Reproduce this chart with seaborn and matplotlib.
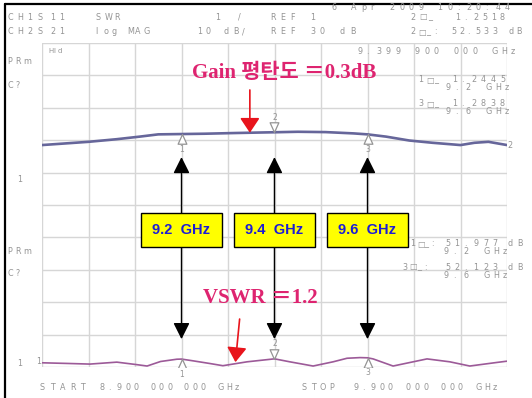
import numpy as np
import pandas as pd
import matplotlib
matplotlib.use("Agg")
import matplotlib.pyplot as plt
import seaborn as sns
from matplotlib.lines import Line2D
from matplotlib.markers import MarkerStyle
from matplotlib.patches import Rectangle

# ---- sweep setup ----
freq_start = 8.9          # GHz
freq_stop = 9.9           # GHz
n_div = 10
vswr_ref = 1.0            # SWR reference at bottom line
vswr_per_div = 1.0

# ---- S21 gain trace (screen divisions from bottom) ----
gain_freq = [8.90, 8.95, 9.00, 9.06, 9.11, 9.15, 9.20, 9.25, 9.31, 9.38, 9.40,
             9.45, 9.51, 9.57, 9.60, 9.64, 9.69, 9.74, 9.80, 9.83, 9.86, 9.90]
gain_div = [6.85, 6.90, 6.95, 7.03, 7.11, 7.18, 7.19, 7.20, 7.22, 7.24, 7.245,
            7.26, 7.25, 7.21, 7.18, 7.11, 6.99, 6.92, 6.85, 6.92, 6.95, 6.85]

# ---- S11 VSWR trace ----
vswr_freq = [8.900, 8.954, 9.003, 9.061, 9.100, 9.126, 9.155, 9.190, 9.200, 9.225,
             9.260, 9.289, 9.341, 9.400, 9.433, 9.483, 9.526, 9.556, 9.584, 9.600,
             9.612, 9.655, 9.728, 9.777, 9.820, 9.878, 9.900]
vswr = [1.13, 1.11, 1.09, 1.15, 1.08, 1.03, 1.17, 1.24, 1.2445, 1.19,
        1.11, 1.04, 1.16, 1.2518, 1.16, 1.03, 1.16, 1.27, 1.29, 1.2838,
        1.25, 1.03, 1.25, 1.16, 1.03, 1.14, 1.18]

# ---- markers ----
marker_freqs = [9.2, 9.3999, 9.6]
marker_ids = ["1", "2", "3"]
marker_dirs = ["up", "down", "up"]
box_labels = ["9.2  GHz", "9.4  GHz", "9.6  GHz"]

gain_title = "Gain 평탄도 ＝0.3dB"
vswr_title = "VSWR ＝1.2"

W, H = 532, 398
GRAY = "#949494"
GRID = "#d6d6d6"
ANNOT = "#de2470"

sns.set_theme(style="white")
plt.rcParams["font.family"] = ["DejaVu Sans"]

fig = plt.figure(figsize=(W / 100, H / 100), dpi=100)
fig.patch.set_facecolor("white")
ax = fig.add_axes([42 / W, 1 - 367 / H, (507 - 42) / W, (367 - 43) / H])

gain_df = pd.DataFrame({"freq": gain_freq, "div": gain_div})
vswr_df = pd.DataFrame({"freq": vswr_freq, "vswr": vswr})
vswr_df["div"] = (vswr_df["vswr"] - vswr_ref) / vswr_per_div

sns.lineplot(data=gain_df, x="freq", y="div", ax=ax, color="#66669a",
             linewidth=1.9, zorder=3)
sns.lineplot(data=vswr_df, x="freq", y="div", ax=ax, color="#9c5a98",
             linewidth=1.2, zorder=3)

ax.set_xlim(freq_start, freq_stop)
ax.set_ylim(0, n_div)
ax.set_xticks(np.linspace(freq_start, freq_stop, n_div + 1))
ax.set_yticks(np.arange(0, n_div + 1))
ax.grid(True, color=GRID, linewidth=1.0)
ax.tick_params(left=False, bottom=False, labelleft=False, labelbottom=False)
ax.set_xlabel("")
ax.set_ylabel("")
for s in ax.spines.values():
    s.set_visible(False)

# marker triangles with tip on the trace
up_tri = MarkerStyle([(0, 0), (-0.45, -1), (0.45, -1), (0, 0)])
down_tri = MarkerStyle([(0, 0), (-0.45, 1), (0.45, 1), (0, 0)])


def place_markers(ys):
    for f, y, mid, d in zip(marker_freqs, ys, marker_ids, marker_dirs):
        m = up_tri if d == "up" else down_tri
        ax.plot([f], [y], marker=m, markersize=14, mfc="white", mec=GRAY,
                mew=0.9, linestyle="none", zorder=4)
        off = -15 if d == "up" else 15
        ax.annotate(mid, (f, y), xytext=(0, off), textcoords="offset pixels",
                    ha="center", va="center", fontsize=5.5, color=GRAY, zorder=4)


place_markers(np.interp(marker_freqs, gain_freq, gain_div))
place_markers([(v - vswr_ref) / vswr_per_div
               for v in np.interp(marker_freqs, vswr_freq, vswr)])

# double arrows and frequency boxes
for f, lab in zip(marker_freqs, box_labels):
    ax.annotate("", xy=(f, 6.48), xytext=(f, 0.86),
                arrowprops=dict(arrowstyle="<|-|>,head_length=1.0,head_width=0.5",
                                mutation_scale=10, color="black", lw=1.0,
                                shrinkA=0, shrinkB=0),
                zorder=5)
    bw = 81 / 465 * (freq_stop - freq_start)
    ax.add_patch(Rectangle((f - bw / 2, 3.70), bw, 1.05, facecolor="#ffff00",
                           edgecolor="black", lw=1.0, zorder=6))
    ax.text(f, 4.23, lab, ha="center", va="center", color="#1c1cd6",
            fontsize=10.5, fontweight="bold", family="Liberation Sans", zorder=7)

# red pointer arrows
red_arrow = dict(arrowstyle="-|>,head_length=0.9,head_width=0.6",
                 mutation_scale=10, color="#e8141c", lw=1.2, shrinkA=0, shrinkB=0)
ax.annotate("", xy=(9.347, 7.23), xytext=(9.347, 8.55), arrowprops=red_arrow, zorder=6)
ax.annotate("", xy=(9.316, 0.15), xytext=(9.325, 1.48), arrowprops=red_arrow, zorder=6)

# annotation titles
title_font = ["Liberation Serif", "Noto Sans CJK KR"]
fig.text(284 / W, 1 - 73 / H, gain_title, ha="center", va="center",
         color=ANNOT, fontsize=15, fontweight="bold", family=title_font)
fig.text(260 / W, 1 - 298 / H, vswr_title, ha="center", va="center",
         color=ANNOT, fontsize=15, fontweight="bold", family=title_font)


# instrument readouts, drawn one character per cell
def mono(x, y, s, pitch=9.4, size=5.8, color=GRAY):
    for i, ch in enumerate(s):
        if ch != " ":
            fig.text((x + i * pitch) / W, 1 - y / H, ch, ha="left", va="center",
                     fontsize=size, color=color, family="DejaVu Sans")


mono(332, 7, "6 Apr 2009 10:20:44", 9.6)
mono(7, 17, "CH1S", 10)
mono(50, 17, "11", 9)
mono(95, 17, "SWR", 9.5)
mono(215, 17, "1", 9)
mono(238, 17, "/", 9)
mono(270, 17, "REF 1", 10)
mono(410, 17, "2□_  1.2518", 9)
mono(7, 32, "CH2S", 10)
mono(50, 32, "21", 9)
mono(95, 32, "log MAG", 8)
mono(197, 32, "10 dB/", 9)
mono(270, 32, "REF 30 dB", 10)
mono(410, 32, "2□_: 52.533 dB", 8.2)

mono(48, 51, "Hld", 5, size=5)
mono(357, 52, "9.399 900 000 GHz", 9.6)
mono(418, 80, "1□_", 8)
mono(452, 80, "1.2445", 9.6)
mono(445, 88, "9.2 GHz", 10)
mono(418, 104, "3□_", 8)
mono(452, 104, "1.2838", 9.6)
mono(445, 112, "9.6 GHz", 10)

mono(410, 244, "1□_:", 7)
mono(445, 244, "51.977", 9.5)
mono(508, 244, "dB", 9)
mono(443, 252, "9.2 GHz", 10)
mono(402, 267, "3□_:", 7.5)
mono(445, 267, "52.123", 9.5)
mono(508, 267, "dB", 9)
mono(443, 275, "9.6 GHz", 10)

mono(7, 62, "PRm", 8)
mono(7, 85, "C?", 8)
mono(17, 179, "1", 8)
mono(7, 251, "PRm", 8)
mono(7, 274, "C?", 8)
mono(17, 364, "1", 8)
mono(36, 361, "1", 8)
mono(507, 145, "2", 8)

mono(40, 387, "START", 10)
mono(100, 387, "8.900 000 000 GHz", 8.4)
mono(302, 387, "STOP", 9)
mono(353, 387, "9.900 000 000 GHz", 8.75)

# screen frame
fig.add_artist(Line2D([5 / W, 1], [1 - 4 / H, 1 - 4 / H], color="black", lw=1.6))
fig.add_artist(Line2D([5 / W, 5 / W], [0, 1 - 4 / H], color="black", lw=1.6))

fig.savefig("out.png", dpi=100, facecolor="white")
